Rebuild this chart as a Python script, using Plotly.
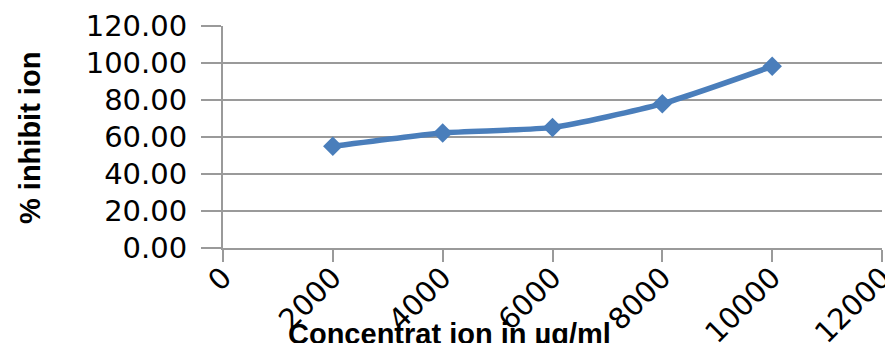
import plotly.graph_objects as go

# Concentration (µg/ml) and measured % inhibition
concentration = [2000, 4000, 6000, 8000, 10000]
inhibition = [55.0, 62.2, 65.2, 78.0, 98.2]

x_ticks = [0, 2000, 4000, 6000, 8000, 10000, 12000]
y_ticks = [0, 20, 40, 60, 80, 100, 120]
y_tick_text = [f"{v:.2f}" for v in y_ticks]

blue = "#4A7EBB"
grey = "#9A9A9A"
tick_font = dict(family="DejaVu Sans", size=29, color="#000000")

fig = go.Figure(
    go.Scatter(
        x=concentration,
        y=inhibition,
        mode="lines+markers",
        line=dict(color=blue, width=5.5, shape="spline", smoothing=0.6),
        marker=dict(symbol="diamond", size=15, color=blue),
        showlegend=False,
    )
)

fig.update_layout(
    width=885,
    height=343,
    margin=dict(l=223, r=3, t=26, b=95),
    paper_bgcolor="white",
    plot_bgcolor="white",
    xaxis=dict(
        range=[0, 12000],
        tickvals=x_ticks,
        ticktext=[str(v) for v in x_ticks],
        tickangle=-45,
        tickfont=tick_font,
        ticklabeloverflow="allow",
        automargin=False,
        showgrid=False,
        zeroline=False,
        showline=True,
        linecolor=grey,
        linewidth=2,
        ticks="outside",
        ticklen=12,
        tickwidth=2,
        tickcolor=grey,
        ticklabelstandoff=-13,
    ),
    yaxis=dict(
        range=[0, 120],
        tickvals=y_ticks,
        ticktext=y_tick_text,
        tickfont=tick_font,
        automargin=False,
        showgrid=True,
        gridcolor=grey,
        gridwidth=2,
        zeroline=False,
        showline=True,
        linecolor=grey,
        linewidth=2,
        ticks="outside",
        ticklen=20,
        tickwidth=2,
        tickcolor=grey,
        ticklabelstandoff=8,
    ),
    annotations=[
        dict(
            text="<b>% inhibit ion</b>",
            xref="paper", yref="paper",
            x=(30 - 223) / 659, y=(248 - 138) / 222,
            xanchor="center", yanchor="middle",
            textangle=-90,
            showarrow=False,
            font=dict(family="Liberation Sans", size=29, color="#000000"),
        ),
        dict(
            text="<b>Concentrat ion in µg/ml</b>",
            xref="paper", yref="paper",
            x=(449 - 223) / 659, y=-(334 - 248) / 222,
            xanchor="center", yanchor="middle",
            showarrow=False,
            font=dict(family="Liberation Sans", size=29, color="#000000"),
        ),
    ],
)

fig.write_html("out.html")
